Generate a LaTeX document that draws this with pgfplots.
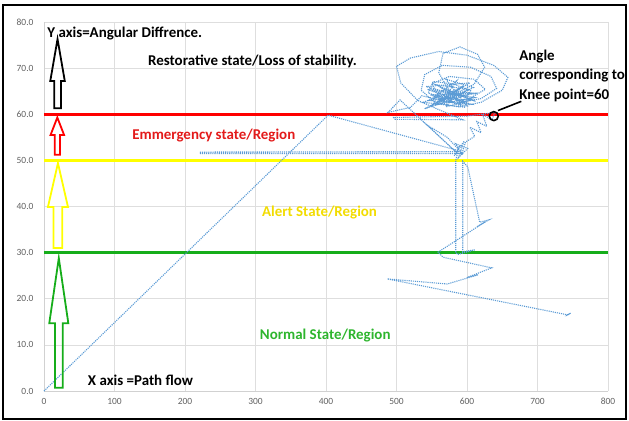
\documentclass[border=0pt]{standalone}
\usepackage{pgfplots}
\pgfplotsset{compat=1.18}
\usepackage{fontspec}
\setmainfont{Carlito}
\definecolor{traj}{HTML}{5B9BD5}
\definecolor{lred}{HTML}{FF0000}
\definecolor{lyellow}{HTML}{FFFF00}
\definecolor{lgreen}{HTML}{16AD1A}
\definecolor{tred}{HTML}{E31A1A}
\definecolor{tyellow}{HTML}{F2DC00}
\definecolor{tgreen}{HTML}{2DB52D}
\definecolor{ticktext}{HTML}{606060}
\begin{document}
\begin{tikzpicture}
\begin{axis}[
  at={(0,0)}, anchor=south west,
  scale only axis, width=564bp, height=369bp,
  xmin=0, xmax=800, ymin=0, ymax=80,
  xtick={0,100,...,800}, ytick={0,10,...,80},
  grid=major, grid style={draw=black!13, line width=0.6bp},
  axis x line=bottom, axis y line=left,
  axis line style={draw=black!18, -},
  major tick length=0pt,
  /pgf/number format/assume math mode=true,
  tick label style={font=\fontsize{9.5}{11}\selectfont, text=ticktext},
  yticklabel={\pgfmathprintnumber[fixed,fixed zerofill,precision=1]{\tick}},
  yticklabel style={xshift=-7bp},
  xticklabel style={yshift=-4bp},
  clip=false,
]
% state boundary lines
\addplot[lred, line width=2.6bp] coordinates {(0,60) (800,60)};
\addplot[lyellow, line width=2.6bp] coordinates {(0,50) (800,50)};
\addplot[lgreen, line width=2.6bp] coordinates {(0,30) (800,30)};

% trajectory
\addplot[traj, line width=1.1bp, dash pattern=on 1.1bp off 1bp] coordinates {
(0,0) (403,59.8) (586,52.2) (590,53.2) (582,51) (596,54.2) (588,50.6) (601,52.6) (584,53.6) (594,51.2)
(590,51.9) (221,51.8) (222,51.5) (593,51.5) (598,54) (611,55.2) (604,57.2) (620,56) (614,58.4) (628,57.4)
(622,60) (635,58.8) (640,60.4) (600,59.6) (496,59.3) (498,58.9) (594,58.8) (560,61) (530,63) (506,66.8)
(500,70.4) (520,72.2) (560,73.6) (600,72.8) (638,70.6) (658,68) (650,65.2) (620,62.6) (588,61.6) (555,62.5)
(535,65.2) (540,68.6) (565,70.6) (605,70.2) (634,68.2) (642,65.6) (620,63.4) (585,62.4) (560,64) (550,66.6)
(575,68.2) (610,67.6) (626,65.4) (600,63.1) (570,63.4) (545,64.6) (552,67.1) (580,66.6) (605,65.1) (590,62)
(575,65) (560,69) (566,73.2) (590,74.6) (615,73) (625,70.2) (610,66.5) (540,61.2) (600,64.2) (545,63)
(605,62.2) (550,65.2) (611,63.6) (555,62) (595,66.2) (560,63) (615,64.6) (548,64.2) (598,61.5) (538,62.6)
(590,65.6) (570,61.6) (608,63.2) (542,66) (604,66.8) (548,61.8) (602,65.4) (556,66.4) (612,62.8) (565,65.6)
(596,62.4) (544,65.4) (606,64.6) (552,63.6) (585,67.2) (562,62.2) (609,65.8) (570,67.6) (600,61.8) (536,64)
(520,61.5) (488,60.4) (505,63.1) (586,51.6) (543,57.7) (572,55) (588,52.4)
(584,50) (584,30) (587,29.6) (611,30.6) (594,30.2) (594,49.8) (601,48.6) (618,36.6) (631,37.1) (614,35.6)
(625,36.6) (559,30.1) (566,29) (635,26.7) (600,24.6) (616,25.2) (572,23.2) (487,24.3) (743,16.5) (747,16.9)
(739,16.2)
};

% block arrows
\draw[lgreen, line width=1.8bp] (axis cs:15.5,0.7) -- (axis cs:26.5,0.7) -- (axis cs:26.5,14.7) -- (axis cs:34.5,14.7) -- (axis cs:21,28.8) -- (axis cs:7.5,14.7) -- (axis cs:15.5,14.7) -- cycle;
\draw[lyellow, line width=1.8bp] (axis cs:13.5,31) -- (axis cs:26,31) -- (axis cs:26,39.9) -- (axis cs:34,39.9) -- (axis cs:19.8,49.4) -- (axis cs:5.6,39.9) -- (axis cs:13.5,39.9) -- cycle;
\draw[lred, line width=1.8bp] (axis cs:15.2,51.2) -- (axis cs:22.6,51.2) -- (axis cs:22.6,55.5) -- (axis cs:28.5,55.5) -- (axis cs:18.9,59.3) -- (axis cs:9.3,55.5) -- (axis cs:15.2,55.5) -- cycle;
\draw[black, line width=1.8bp] (axis cs:14.5,61.3) -- (axis cs:24,61.3) -- (axis cs:24,67.2) -- (axis cs:29.5,67.2) -- (axis cs:19.2,76.3) -- (axis cs:8.9,67.2) -- (axis cs:14.5,67.2) -- cycle;

% knee point marker
\draw[black, line width=1.6bp] (axis cs:638,59.6) circle[radius=4.5bp];
\draw[black, line width=1.6bp] (axis cs:644,60.8) -- (axis cs:677,62.8);

% labels
\tikzset{lab/.style={anchor=west, inner sep=0pt, font=\fontsize{15}{18}\selectfont\bfseries}}
\node[lab] at (axis cs:4.5,77.6) {Y axis=Angular Diffrence.};
\node[lab] at (axis cs:147.5,71.5) {Restorative state/Loss of stability.};
\node[lab, text=tred] at (axis cs:125,55.3) {Emmergency state/Region};
\node[lab, text=tyellow] at (axis cs:309,38.8) {Alert State/Region};
\node[lab, text=tgreen] at (axis cs:306,12.1) {Normal State/Region};
\node[lab] at (axis cs:62,2.4) {X axis =Path flow};
\node[lab] at (axis cs:674,72.6) {Angle};
\node[lab] at (axis cs:674,68.3) {corresponding to};
\node[lab] at (axis cs:674,64.0) {Knee point=60};
\end{axis}
\draw[black, line width=2bp] (-41bp,-28bp) rectangle (582bp,386bp);
\pgfresetboundingbox
\path (-44bp,-30bp) rectangle (585bp,391bp);
\end{tikzpicture}
\end{document}
